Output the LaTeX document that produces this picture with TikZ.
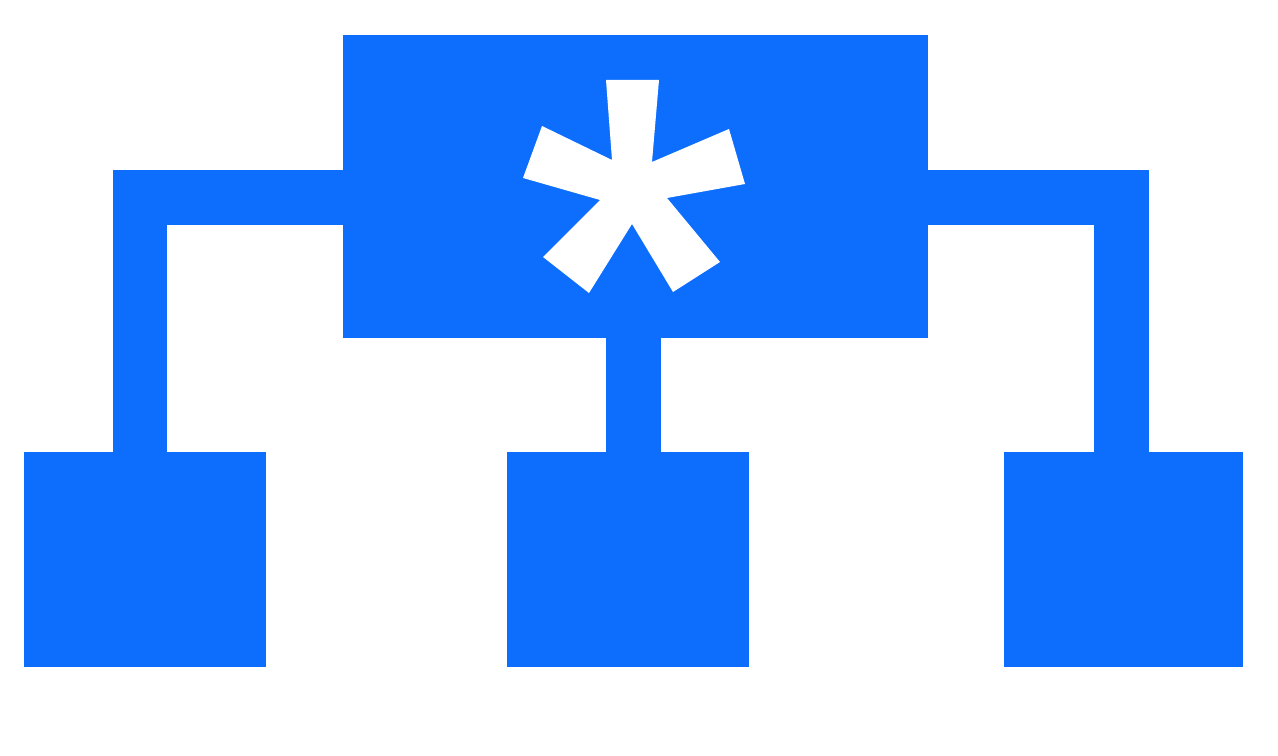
\documentclass[tikz,border=0pt]{standalone}
\usepackage{tikz}

\definecolor{iconblue}{HTML}{0D6EFD}

\tikzset{
  box/.style={rectangle, fill=iconblue, inner sep=0pt, outer sep=0pt},
  link/.style={draw=iconblue, line width=1.1cm, line join=miter}
}

\begin{document}
\begin{tikzpicture}[x=0.02cm, y=-0.02cm]
\useasboundingbox (0,0) rectangle (1278,756);

\node[box, minimum width=11.7cm, minimum height=6.06cm] (root) at (635.5,186.5) {};
\node[box, minimum width=4.84cm, minimum height=4.3cm] (leftleaf) at (145,559.5) {};
\node[box, minimum width=4.84cm, minimum height=4.3cm] (midleaf) at (628,559.5) {};
\node[box, minimum width=4.78cm, minimum height=4.3cm] (rightleaf) at (1123.5,559.5) {};

\coordinate (lbend) at (140,197.5);
\coordinate (rbend) at (1121.5,197.5);
\coordinate (mbend) at (633,0);

\draw[link] (root.west |- lbend) -- (lbend) -- (lbend |- leftleaf.north);
\draw[link] (root.east |- rbend) -- (rbend) -- (rbend |- rightleaf.north);
\draw[link] (mbend |- root.south) -- (mbend |- midleaf.north);

% asterisk
\fill[white] (606,80) -- (659,80) -- (652,162) -- (729,129) -- (745,184)
  -- (667,198) -- (720,262) -- (673,292) -- (632,224) -- (589,293)
  -- (543,257) -- (600,200) -- (523,178) -- (542,126) -- (612,160) -- cycle;
\end{tikzpicture}
\end{document}
